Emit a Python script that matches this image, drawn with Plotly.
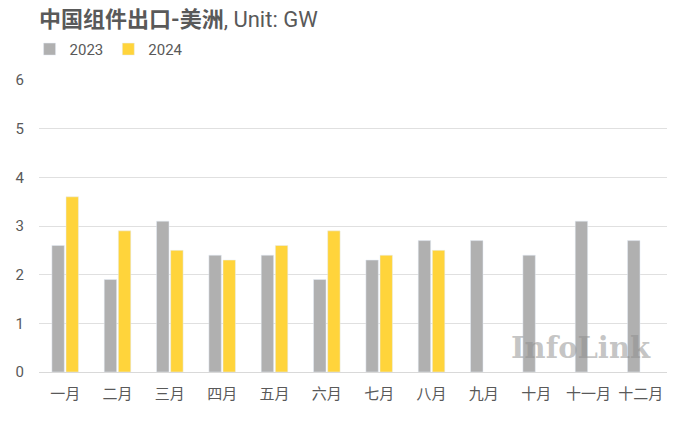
import plotly.graph_objects as go

months = ["一月", "二月", "三月", "四月", "五月", "六月", "七月", "八月", "九月", "十月", "十一月", "十二月"]
v2023 = [2.6, 1.9, 3.1, 2.4, 2.4, 1.9, 2.3, 2.7, 2.7, 2.4, 3.1, 2.7]
v2024 = [3.6, 2.9, 2.5, 2.3, 2.6, 2.9, 2.4, 2.5]
y_ticks = [0, 1, 2, 3, 4, 5, 6]

font = "Roboto, Noto Sans CJK SC, sans-serif"

fig = go.Figure()
fig.add_trace(go.Bar(name="2023", x=months, y=v2023, marker_color="#B0B0B0"))
fig.add_trace(go.Bar(name="2024", x=months[:len(v2024)], y=v2024, marker_color="#FFD43B"))

fig.update_layout(
    width=673, height=426,
    paper_bgcolor="white", plot_bgcolor="white",
    margin=dict(l=39, r=6, t=80, b=54),
    barmode="group", bargap=0.46, bargroupgap=0.12,
    font=dict(family=font, color="#595959", size=15),
    title=dict(
        text="<b>中国组件出口-美洲</b>, Unit: GW",
        x=0.0, xref="paper", xanchor="left", y=0.955, yanchor="middle",
        font=dict(size=22, color="#595959", family=font),
    ),
    legend=dict(
        orientation="h", x=-0.015, xanchor="left", y=1.105, yanchor="middle",
        font=dict(size=15, color="#595959"), itemwidth=30,
        traceorder="normal",
    ),
    xaxis=dict(showgrid=False, showline=True, linecolor="#D9D9D9", linewidth=1,
               ticks="", automargin=False, ticklabelstandoff=8,
               tickfont=dict(size=15, color="#595959")),
    yaxis=dict(range=[0, 6], tickvals=y_ticks, showgrid=True, gridcolor="#E0E0E0",
               gridwidth=1, zeroline=False, ticks="", ticklabelstandoff=14, automargin=False,
               tickfont=dict(size=15, color="#595959")),
    showlegend=True,
)

fig.add_annotation(
    text="<b>InfoLink</b>", xref="paper", yref="paper", x=0.978, y=0.082, xanchor="right", yanchor="middle",
    showarrow=False, font=dict(size=29, color="rgba(140,140,140,0.5)", family="DejaVu Serif, serif"),
)

fig.write_html("out.html", config={"displayModeBar": False},
               post_script="document.body.style.margin='0px';")
